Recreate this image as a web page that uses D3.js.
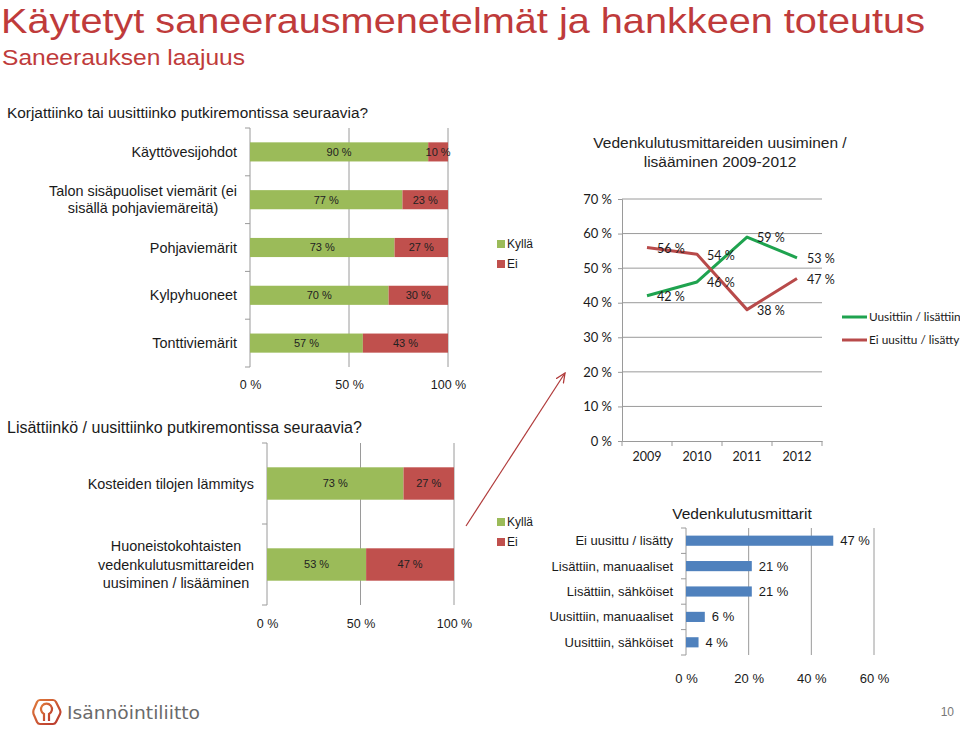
<!DOCTYPE html>
<html>
<head>
<meta charset="utf-8">
<script src="https://cdn.jsdelivr.net/npm/d3@7"></script>
<style>
  body { margin: 0; background: #fff; }
  svg { display: block; }
</style>
</head>
<body>
<svg id="chart" width="960" height="729"></svg>
<script>
// ---------- DATA ----------
const pipeCategories = ["Käyttövesijohdot", "Talon sisäpuoliset viemärit (ei\nsisällä pohjaviemäreitä)", "Pohjaviemärit", "Kylpyhuoneet", "Tonttiviemärit"];
const pipeYes = [90, 77, 73, 70, 57];
const pipeNo = [10, 23, 27, 30, 43];

const addCategories = ["Kosteiden tilojen lämmitys", "Huoneistokohtaisten\nvedenkulutusmittareiden\nuusiminen / lisääminen"];
const addYes = [73, 53];
const addNo = [27, 47];

const stackTicks = [0, 50, 100];
const legendLabels = ["Kyllä", "Ei"];

const years = ["2009", "2010", "2011", "2012"];
const renewed = [42, 46, 59, 53];
const notRenewed = [56, 54, 38, 47];
const lineSeriesNames = ["Uusittiin / lisättiin", "Ei uusittu / lisätty"];
const lineTicks = [0, 10, 20, 30, 40, 50, 60, 70];

const meterCategories = ["Ei uusittu / lisätty", "Lisättiin, manuaaliset", "Lisättiin, sähköiset", "Uusittiin, manuaaliset", "Uusittiin, sähköiset"];
const meterValues = [47, 21, 21, 6, 4];
const meterTicks = [0, 20, 40, 60];

// ---------- STYLE ----------
const GREEN = "#9BBB59", RED = "#C0504D", BLUE = "#4F81BD";
const LINE_GREEN = "#1FA34F", LINE_RED = "#B84A4A";
const TITLE_RED = "#BF3B3B";
const ARIAL = "'Liberation Sans', Arial, sans-serif";
const CALIBRI = "Lato, 'Open Sans', sans-serif";
const TXT = "#1a1a1a";
const GRID = "#9a9a9a";

const svg = d3.select("#chart");
svg.append("rect").attr("width", 960).attr("height", 729).attr("fill", "#fff");

// ---------- HEADINGS ----------
svg.append("text").attr("x", 1).attr("y", 33).attr("font-family", ARIAL).attr("font-size", 34.5)
  .attr("textLength", 924).attr("lengthAdjust", "spacingAndGlyphs")
  .attr("fill", TITLE_RED).text("Käytetyt saneerausmenetelmät ja hankkeen toteutus");
svg.append("text").attr("x", 2).attr("y", 65).attr("font-family", ARIAL).attr("font-size", 21.5)
  .attr("textLength", 243).attr("lengthAdjust", "spacingAndGlyphs")
  .attr("fill", TITLE_RED).text("Saneerauksen laajuus");
svg.append("text").attr("x", 7).attr("y", 118).attr("font-family", ARIAL).attr("font-size", 15.4)
  .attr("fill", TXT).text("Korjattiinko tai uusittiinko putkiremontissa seuraavia?");
svg.append("text").attr("x", 7).attr("y", 433).attr("font-family", ARIAL).attr("font-size", 16)
  .attr("fill", TXT).text("Lisättiinkö / uusittiinko putkiremontissa seuraavia?");

// ---------- STACKED BAR HELPER ----------
function stackedChart(cfg) {
  const { cats, yes, no, xRange, yRange, labelSize, barLabelSize, tickSize, labelRight, lineGap } = cfg;
  const g = svg.append("g");
  const x = d3.scaleLinear().domain([0, 100]).range(xRange);
  const y = d3.scaleBand().domain(cats).range(yRange).paddingInner(0.6).paddingOuter(0.3);

  // gridlines
  g.selectAll(".grid").data(stackTicks.filter(t => t > 0)).join("line")
    .attr("x1", d => x(d)).attr("x2", d => x(d))
    .attr("y1", yRange[0]).attr("y2", yRange[1])
    .attr("stroke", GRID).attr("stroke-width", 1);

  // value axis labels
  const xa = g.append("g").attr("transform", `translate(0,${yRange[1]})`)
    .call(d3.axisBottom(x).tickValues(stackTicks).tickFormat(d => d + " %").tickSize(0).tickPadding(cfg.tickPad));
  xa.select(".domain").remove();
  xa.selectAll("text").attr("font-family", ARIAL).attr("font-size", tickSize).attr("fill", TXT);

  // category axis line + boundary ticks
  g.append("line").attr("x1", x(0)).attr("x2", x(0)).attr("y1", yRange[0]).attr("y2", yRange[1])
    .attr("stroke", GRID).attr("stroke-width", 1);
  const bounds = d3.range(cats.length + 1).map(i => yRange[0] + i * (yRange[1] - yRange[0]) / cats.length);
  g.selectAll(".ctick").data(bounds).join("line")
    .attr("x1", x(0) - 5).attr("x2", x(0)).attr("y1", d => d).attr("y2", d => d)
    .attr("stroke", GRID);

  const rows = cats.map((c, i) => ({ c, yes: yes[i], no: no[i] }));
  // bars
  g.selectAll(".yes").data(rows).join("rect")
    .attr("x", x(0)).attr("y", d => y(d.c)).attr("width", d => x(d.yes) - x(0)).attr("height", y.bandwidth())
    .attr("fill", GREEN);
  g.selectAll(".no").data(rows).join("rect")
    .attr("x", d => x(d.yes)).attr("y", d => y(d.c)).attr("width", d => x(d.yes + d.no) - x(d.yes)).attr("height", y.bandwidth())
    .attr("fill", RED);
  // bar labels
  g.selectAll(".ly").data(rows).join("text")
    .attr("x", d => x(d.yes / 2)).attr("y", d => y(d.c) + y.bandwidth() / 2).attr("dy", "0.35em")
    .attr("text-anchor", "middle").attr("font-family", ARIAL).attr("font-size", barLabelSize).attr("fill", "#222")
    .text(d => d.yes + " %");
  g.selectAll(".ln").data(rows).join("text")
    .attr("x", d => x(d.yes + d.no / 2)).attr("y", d => y(d.c) + y.bandwidth() / 2).attr("dy", "0.35em")
    .attr("text-anchor", "middle").attr("font-family", ARIAL).attr("font-size", barLabelSize).attr("fill", "#222")
    .text(d => d.no + " %");

  // category labels (multi-line centered, block right aligned)
  rows.forEach(d => {
    const lines = d.c.split("\n");
    const t = g.append("text").attr("font-family", ARIAL).attr("font-size", labelSize).attr("fill", TXT);
    const cy = y(d.c) + y.bandwidth() / 2;
    const n = lines.length;
    lines.forEach((ln, i) => {
      t.append("tspan").attr("y", cy + (i - (n - 1) / 2) * lineGap).attr("dy", "0.35em").text(ln);
    });
    const widths = [];
    t.selectAll("tspan").each(function () { widths.push(this.getComputedTextLength()); });
    const maxW = d3.max(widths);
    const center = labelRight - maxW / 2;
    t.selectAll("tspan").attr("x", center).attr("text-anchor", "middle");
  });
  return g;
}

function legend(x0, y0, gap) {
  const lg = svg.append("g");
  legendLabels.forEach((l, i) => {
    lg.append("rect").attr("x", x0).attr("y", y0 + i * gap - 4).attr("width", 8).attr("height", 8)
      .attr("fill", i === 0 ? GREEN : RED);
    lg.append("text").attr("x", x0 + 10).attr("y", y0 + i * gap).attr("dy", "0.35em")
      .attr("font-family", ARIAL).attr("font-size", 12).attr("fill", TXT).text(l);
  });
}

stackedChart({ cats: pipeCategories, yes: pipeYes, no: pipeNo, xRange: [250, 448], yRange: [128, 367],
  labelSize: 14.4, barLabelSize: 11, tickSize: 12.5, labelRight: 237, lineGap: 17.5, tickPad: 13 });
legend(497, 244, 20);

stackedChart({ cats: addCategories, yes: addYes, no: addNo, xRange: [267, 454], yRange: [443, 605],
  labelSize: 14.4, barLabelSize: 11, tickSize: 12.5, labelRight: 254, lineGap: 18.5, tickPad: 14 });
legend(497, 522, 20);

// ---------- ARROW ----------
svg.append("defs").append("marker").attr("id", "arrow").attr("viewBox", "0 0 10 10")
  .attr("refX", 9).attr("refY", 5).attr("markerWidth", 9).attr("markerHeight", 9).attr("orient", "auto")
  .append("path").attr("d", "M0,1 L9,5 L0,9").attr("fill", "none").attr("stroke", "#B03A3A").attr("stroke-width", 1.2);
svg.append("line").attr("x1", 466).attr("y1", 526).attr("x2", 565).attr("y2", 373)
  .attr("stroke", "#B03A3A").attr("stroke-width", 1.2).attr("marker-end", "url(#arrow)");

// ---------- LINE CHART ----------
(function () {
  const g = svg.append("g");
  const x = d3.scaleBand().domain(years).range([622, 822]);
  const y = d3.scaleLinear().domain([0, 70]).range([441, 199]);
  g.append("text").attr("x", 720).attr("y", 148).attr("text-anchor", "middle").attr("font-family", ARIAL)
    .attr("font-size", 15.5).attr("fill", "#222").text("Vedenkulutusmittareiden uusiminen /");
  g.append("text").attr("x", 720).attr("y", 167).attr("text-anchor", "middle").attr("font-family", ARIAL)
    .attr("font-size", 15.5).attr("fill", "#222").text("lisääminen 2009-2012");

  g.selectAll(".hg").data(lineTicks.filter(t => t > 0)).join("line")
    .attr("x1", 622).attr("x2", 822).attr("y1", d => y(d)).attr("y2", d => y(d))
    .attr("stroke", GRID);
  const ya = g.append("g").attr("transform", "translate(622,0)")
    .call(d3.axisLeft(y).tickValues(lineTicks).tickFormat(d => d + " %").tickSize(4).tickPadding(6));
  ya.select(".domain").attr("stroke", GRID);
  ya.selectAll(".tick line").attr("stroke", GRID);
  ya.selectAll("text").attr("font-family", CALIBRI).attr("font-size", 13).attr("fill", TXT);

  const xa = g.append("g").attr("transform", "translate(0,441)")
    .call(d3.axisBottom(x).tickSize(0).tickPadding(11));
  xa.select(".domain").attr("stroke", GRID);
  xa.selectAll("text").attr("font-family", CALIBRI).attr("font-size", 12.5).attr("fill", TXT);
  const bx = d3.range(years.length + 1).map(i => 622 + i * x.step());
  g.selectAll(".bt").data(bx).join("line").attr("x1", d => d).attr("x2", d => d)
    .attr("y1", 441).attr("y2", 446).attr("stroke", GRID);

  const cx = d => x(d) + x.bandwidth() / 2;
  const line = d3.line().x(d => cx(d.yr)).y(d => y(d.v));
  const series = [
    { name: lineSeriesNames[0], color: LINE_GREEN, vals: renewed },
    { name: lineSeriesNames[1], color: LINE_RED, vals: notRenewed }
  ];
  series.forEach(s => {
    const pts = years.map((yr, i) => ({ yr, v: s.vals[i] }));
    g.append("path").datum(pts).attr("d", line).attr("fill", "none").attr("stroke", s.color)
      .attr("stroke-width", 3).attr("stroke-linejoin", "round");
  });
  series.forEach(s => {
    const pts = years.map((yr, i) => ({ yr, v: s.vals[i] }));
    g.selectAll(null).data(pts).join("text")
      .attr("x", d => cx(d.yr) + 10).attr("y", d => y(d.v) + 1).attr("dy", "0.35em")
      .attr("font-family", CALIBRI).attr("font-size", 12.5).attr("fill", TXT).text(d => d.v + " %");
  });
  series.forEach((s, i) => {
    const ly = 317 + i * 23;
    g.append("line").attr("x1", 842).attr("x2", 867).attr("y1", ly).attr("y2", ly)
      .attr("stroke", s.color).attr("stroke-width", 3);
    g.append("text").attr("x", 869).attr("y", ly).attr("dy", "0.35em").attr("font-family", CALIBRI)
      .attr("font-size", 11.8).attr("fill", TXT).text(s.name);
  });
})();

// ---------- METER BAR CHART ----------
(function () {
  const g = svg.append("g");
  const x = d3.scaleLinear().domain([0, 60]).range([686, 874]);
  const y = d3.scaleBand().domain(meterCategories).range([528, 655]).paddingInner(0.6).paddingOuter(0.3);
  g.append("text").attr("x", 742).attr("y", 514).attr("dy", "0.35em").attr("text-anchor", "middle")
    .attr("font-family", ARIAL).attr("font-size", 15.5).attr("fill", TXT).text("Vedenkulutusmittarit");
  g.selectAll(".vg").data(meterTicks.filter(t => t > 0)).join("line")
    .attr("x1", d => x(d)).attr("x2", d => x(d)).attr("y1", 528).attr("y2", 655).attr("stroke", GRID);
  const xa = g.append("g").attr("transform", "translate(0,655)")
    .call(d3.axisBottom(x).tickValues(meterTicks).tickFormat(d => d + " %").tickSize(0).tickPadding(19));
  xa.select(".domain").remove();
  xa.selectAll("text").attr("font-family", ARIAL).attr("font-size", 13).attr("fill", TXT);
  g.append("line").attr("x1", 686).attr("x2", 686).attr("y1", 528).attr("y2", 655).attr("stroke", GRID);
  const bounds = d3.range(meterCategories.length + 1).map(i => 528 + i * y.step());
  g.selectAll(".ct").data(bounds).join("line").attr("x1", 681).attr("x2", 686)
    .attr("y1", d => d).attr("y2", d => d).attr("stroke", GRID);
  const rows = meterCategories.map((c, i) => ({ c, v: meterValues[i] }));
  g.selectAll(".bar").data(rows).join("rect")
    .attr("x", x(0)).attr("y", d => y(d.c)).attr("width", d => x(d.v) - x(0)).attr("height", y.bandwidth())
    .attr("fill", BLUE);
  g.selectAll(".vl").data(rows).join("text")
    .attr("x", d => x(d.v) + 7).attr("y", d => y(d.c) + y.bandwidth() / 2).attr("dy", "0.35em")
    .attr("font-family", ARIAL).attr("font-size", 13).attr("fill", TXT).text(d => d.v + " %");
  g.selectAll(".cl").data(rows).join("text")
    .attr("x", 673).attr("y", d => y(d.c) + y.bandwidth() / 2).attr("dy", "0.35em").attr("text-anchor", "end")
    .attr("font-family", ARIAL).attr("font-size", 13).attr("fill", TXT).text(d => d.c);
})();

// ---------- FOOTER ----------
(function () {
  const defs = svg.select("defs");
  const grad = defs.append("linearGradient").attr("id", "logoGrad").attr("x1", "0").attr("y1", "0").attr("x2", "1").attr("y2", "1");
  grad.append("stop").attr("offset", "0%").attr("stop-color", "#E07A3A");
  grad.append("stop").attr("offset", "100%").attr("stop-color", "#B8372E");
  const g = svg.append("g").attr("transform", "translate(33,699)");
  g.append("path").attr("d", "M7,1 L20,1 Q22,1 23,3 L27,11 Q28,13 27,15 L23,23 Q22,25 20,25 L7,25 Q5,25 4,23 L0.5,15 Q0,13 0.5,11 L4,3 Q5,1 7,1 Z")
    .attr("fill", "none").attr("stroke", "url(#logoGrad)").attr("stroke-width", 2.2);
  g.append("path").attr("d", "M11,22 L11,15 A5.5,5.5 0 1 1 16,15 L16,22")
    .attr("fill", "none").attr("stroke", "url(#logoGrad)").attr("stroke-width", 2.2);
  svg.append("text").attr("x", 67).attr("y", 719).attr("font-family", "'DejaVu Sans', sans-serif")
    .attr("font-size", 17).attr("textLength", 133).attr("lengthAdjust", "spacingAndGlyphs")
    .attr("fill", "#6a6a6a").text("Isännöintiliitto");
  svg.append("text").attr("x", 954).attr("y", 716).attr("text-anchor", "end").attr("font-family", ARIAL)
    .attr("font-size", 12).attr("fill", "#777").text("10");
})();
</script>
</body>
</html>
